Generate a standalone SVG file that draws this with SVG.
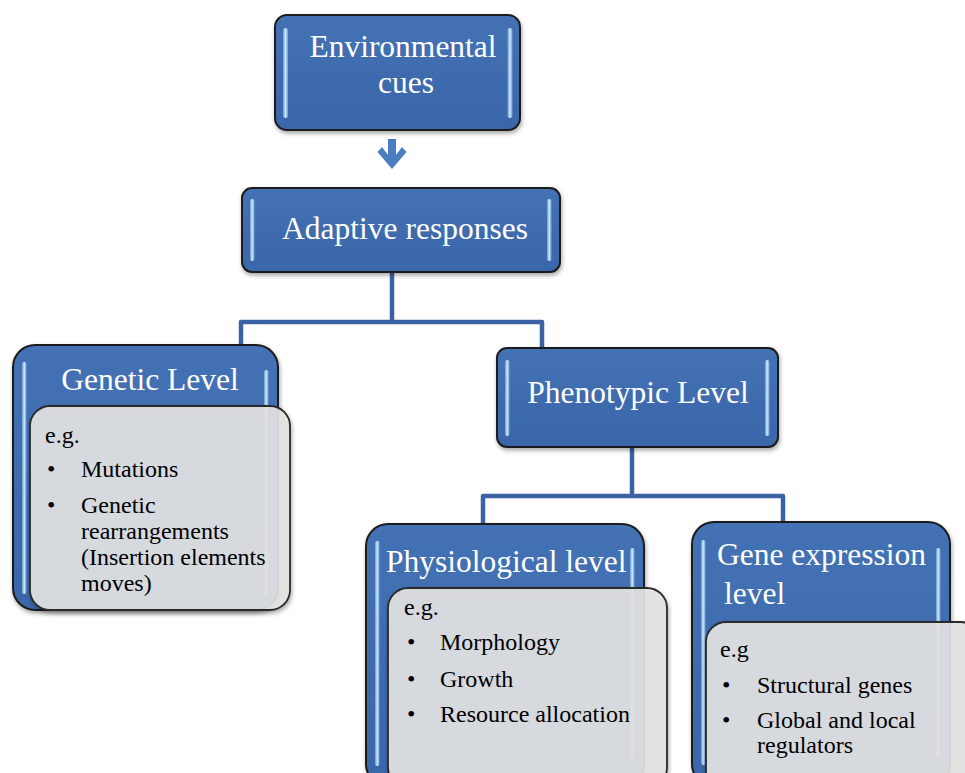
<svg xmlns="http://www.w3.org/2000/svg" width="965" height="773" viewBox="0 0 965 773">
<defs>
<linearGradient id="blueG" x1="0" y1="0" x2="0" y2="1">
<stop offset="0" stop-color="#4472B4"/>
<stop offset="1" stop-color="#3A66A9"/>
</linearGradient>
<linearGradient id="hiG" x1="0" y1="0" x2="1" y2="0">
<stop offset="0" stop-color="#9FCBF2" stop-opacity="0.5"/>
<stop offset="0.5" stop-color="#D8F0FF" stop-opacity="0.95"/>
<stop offset="1" stop-color="#9FCBF2" stop-opacity="0.5"/>
</linearGradient>
<filter id="sh" x="-10%" y="-10%" width="130%" height="130%">
<feDropShadow dx="1" dy="2.5" stdDeviation="2" flood-color="#000" flood-opacity="0.35"/>
</filter>
</defs>
<style>
.box{fill:url(#blueG);stroke:#1E1E1E;stroke-width:2;filter:url(#sh)}
.hi{fill:url(#hiG)}
.card{fill:#E3E3E3;fill-opacity:0.91;stroke:#2A2A2A;stroke-width:1.8;filter:url(#sh)}
.t{font-family:"Liberation Serif","Times New Roman",serif;font-size:31.5px;fill:#FFFFFF}
.b{font-family:"Liberation Serif","Times New Roman",serif;font-size:24px;fill:#000000}
.con{fill:none;stroke:#3B63A4;stroke-width:4.5;stroke-linejoin:round}
</style>
<rect width="965" height="773" fill="#FFFFFF"/>

<g id="connectors">
<path d="M392,272 V322 M241,346 V322 H542 V350" class="con"/>
<path d="M632,447 V496 M483,525 V496 H783 V523" class="con"/>
<path d="M388,139 H396 V155 L402,147 L406.5,152 L392,169 L377.5,152 L382,147 L388,155 Z" fill="#4A7EC0"/>
</g>

<g id="environmental-cues">
<rect x="275" y="15" width="245" height="115" rx="12" class="box"/>
<rect x="283" y="28" width="5" height="90" rx="2.5" class="hi"/>
<rect x="507.5" y="28" width="5" height="90" rx="2.5" class="hi"/>
<text x="403" y="57" text-anchor="middle" class="t">Environmental</text>
<text x="406" y="93" text-anchor="middle" class="t">cues</text>
</g>

<g id="adaptive-responses">
<rect x="242" y="188" width="318" height="84" rx="10" class="box"/>
<rect x="250" y="199" width="4.5" height="62" rx="2" class="hi"/>
<rect x="547" y="199" width="4.5" height="62" rx="2" class="hi"/>
<text x="405" y="239" text-anchor="middle" class="t">Adaptive responses</text>
</g>

<g id="genetic-level">
<rect x="13" y="345" width="265" height="265" rx="22" class="box"/>
<rect x="22" y="362" width="4.5" height="232" rx="2" class="hi"/>
<rect x="264" y="370" width="4.5" height="225" rx="2" class="hi"/>
<text x="150" y="390" text-anchor="middle" class="t">Genetic Level</text>
<rect x="30" y="406" width="260" height="204" rx="20" class="card"/>
<text x="45" y="443" class="b">e.g.</text>
<text x="47" y="477" class="b">•</text>
<text x="81" y="477" class="b">Mutations</text>
<text x="47" y="513" class="b">•</text>
<text x="81" y="513" class="b">Genetic</text>
<text x="81" y="539" class="b">rearrangements</text>
<text x="81" y="565" class="b">(Insertion elements</text>
<text x="81" y="591" class="b">moves)</text>
</g>

<g id="phenotypic-level">
<rect x="497" y="348" width="281" height="99" rx="10" class="box"/>
<rect x="505" y="360" width="4.5" height="76" rx="2" class="hi"/>
<rect x="765" y="360" width="4.5" height="76" rx="2" class="hi"/>
<text x="638" y="403" text-anchor="middle" class="t">Phenotypic Level</text>
</g>

<g id="physiological-level">
<rect x="366" y="524" width="278" height="262" rx="22" class="box"/>
<rect x="375" y="541" width="4.5" height="225" rx="2" class="hi"/>
<rect x="630" y="548" width="4.5" height="210" rx="2" class="hi"/>
<text x="386" y="572" class="t">Physiological level</text>
<rect x="388" y="588" width="279" height="200" rx="20" class="card"/>
<text x="404" y="615" class="b">e.g.</text>
<text x="407" y="650" class="b">•</text>
<text x="440" y="650" class="b">Morphology</text>
<text x="407" y="687" class="b">•</text>
<text x="440" y="687" class="b">Growth</text>
<text x="407" y="722" class="b">•</text>
<text x="440" y="722" class="b">Resource allocation</text>
</g>

<g id="gene-expression-level">
<rect x="692" y="522" width="258" height="264" rx="22" class="box"/>
<rect x="701" y="540" width="4.5" height="225" rx="2" class="hi"/>
<rect x="936" y="548" width="4.5" height="210" rx="2" class="hi"/>
<text x="717" y="565" class="t">Gene expression</text>
<text x="724" y="604" class="t">level</text>
<rect x="706" y="622" width="275" height="170" rx="20" class="card"/>
<text x="720" y="657" class="b">e.g</text>
<text x="722" y="693" class="b">•</text>
<text x="757" y="693" class="b">Structural genes</text>
<text x="722" y="728" class="b">•</text>
<text x="757" y="728" class="b">Global and local</text>
<text x="757" y="753" class="b">regulators</text>
</g>
</svg>
